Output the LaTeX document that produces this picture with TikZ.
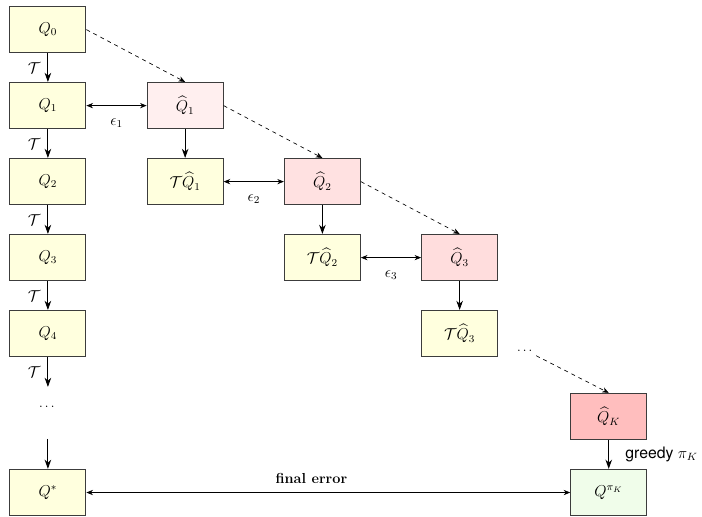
\documentclass[tikz,border=0pt]{standalone}
\usepackage{amsmath,amssymb}
\usepackage{fontspec}
\newfontfamily\labelsans{TeX Gyre Heros}
\usetikzlibrary{arrows.meta, positioning, calc}
\definecolor{qyellow}{RGB}{255,255,222}
\definecolor{qpinka}{RGB}{255,239,239}
\definecolor{qpinkb}{RGB}{255,225,225}
\definecolor{qpinkc}{RGB}{255,221,221}
\definecolor{qpinkk}{RGB}{255,190,190}
\definecolor{qgreen}{RGB}{240,253,234}
\definecolor{qborder}{RGB}{60,60,60}

\begin{document}
\begin{tikzpicture}[
    node distance=21.75pt and 45.75pt,
    box/.style={rectangle, draw=qborder, fill=qyellow, minimum width=57.75pt, minimum height=35.25pt, line width=0.7pt, inner sep=2pt, font=\large},
    arrow/.style={-{Stealth[length=7pt, width=5pt]}, line width=0.7pt},
    errarrow/.style={{Stealth[length=5pt, width=4pt]}-{Stealth[length=5pt, width=4pt]}, line width=0.5pt},
    dasharrow/.style={-{Stealth[length=5pt, width=4pt]}, dashed, line width=0.5pt},
    tlabel/.style={midway, left=2pt, font=\large},
    elabel/.style={midway, below=6pt, font=\large}
]
% Left column: exact iteration
\node[box] (q0) {$Q_0$};
\node[box, below=of q0] (q1) {$Q_1$};
\node[box, below=of q1] (q2) {$Q_2$};
\node[box, below=of q2] (q3) {$Q_3$};
\node[box, below=of q3] (q4) {$Q_4$};
\node[below=22.5pt of q4, minimum height=30pt, inner sep=0pt] (ldots) {$\dots$};

% Staircase: approximate iteration
\node[box, right=of q1, fill=qpinka] (qh1) {$\widehat{Q}_1$};
\node[box, below=of qh1] (tqh1) {$\mathcal{T}\widehat{Q}_1$};
\node[box, right=of tqh1, fill=qpinkb] (qh2) {$\widehat{Q}_2$};
\node[box, below=of qh2] (tqh2) {$\mathcal{T}\widehat{Q}_2$};
\node[box, right=of tqh2, fill=qpinkc] (qh3) {$\widehat{Q}_3$};
\node[box, below=of qh3] (tqh3) {$\mathcal{T}\widehat{Q}_3$};
\node (rdots) at ($(tqh3.south east)+(21pt,5.25pt)$) {$\dots$};
\node[box, below right=27pt and 54.75pt of tqh3, fill=qpinkk] (qhK) {$\widehat{Q}_K$};
\node[box, below=of qhK, fill=qgreen] (qpiK) {$Q^{\pi_K}$};
\node[box] (qstar) at (q4 |- qpiK) {$Q^*$};

% Bellman operator
\draw[arrow] (q0) -- (q1) node[tlabel] {$\mathcal{T}$};
\draw[arrow] (q1) -- (q2) node[tlabel] {$\mathcal{T}$};
\draw[arrow] (q2) -- (q3) node[tlabel] {$\mathcal{T}$};
\draw[arrow] (q3) -- (q4) node[tlabel] {$\mathcal{T}$};
\draw[arrow] (q4) -- (ldots) node[tlabel] {$\mathcal{T}$};
\draw[arrow, shorten <=9pt] (ldots) -- (qstar);
\draw[arrow] (qh1) -- (tqh1);
\draw[arrow] (qh2) -- (tqh2);
\draw[arrow] (qh3) -- (tqh3);
\draw[arrow] (qhK) -- (qpiK) node[midway, right=9pt, font=\labelsans\large] {greedy $\pi_K$};

% Fitting steps
\draw[dasharrow] (q0.east) -- (qh1.north);
\draw[dasharrow] (qh1.east) -- (qh2.north);
\draw[dasharrow] (qh2.east) -- (qh3.north);
\draw[dasharrow] (rdots) -- (qhK.north);

% Errors
\draw[errarrow] (q1) -- (qh1) node[elabel] {$\epsilon_1$};
\draw[errarrow] (tqh1) -- (qh2) node[elabel] {$\epsilon_2$};
\draw[errarrow] (tqh2) -- (qh3) node[elabel] {$\epsilon_3$};
\draw[errarrow] (qstar) -- (qpiK) node[pos=0.465, above=3pt, font=\fontsize{11}{13}\selectfont] {\textbf{final error}};

\useasboundingbox ($(q0.center)+(-36.375pt,22.5pt)$) rectangle ++(526.5pt,-386.25pt);
\end{tikzpicture}
\end{document}
